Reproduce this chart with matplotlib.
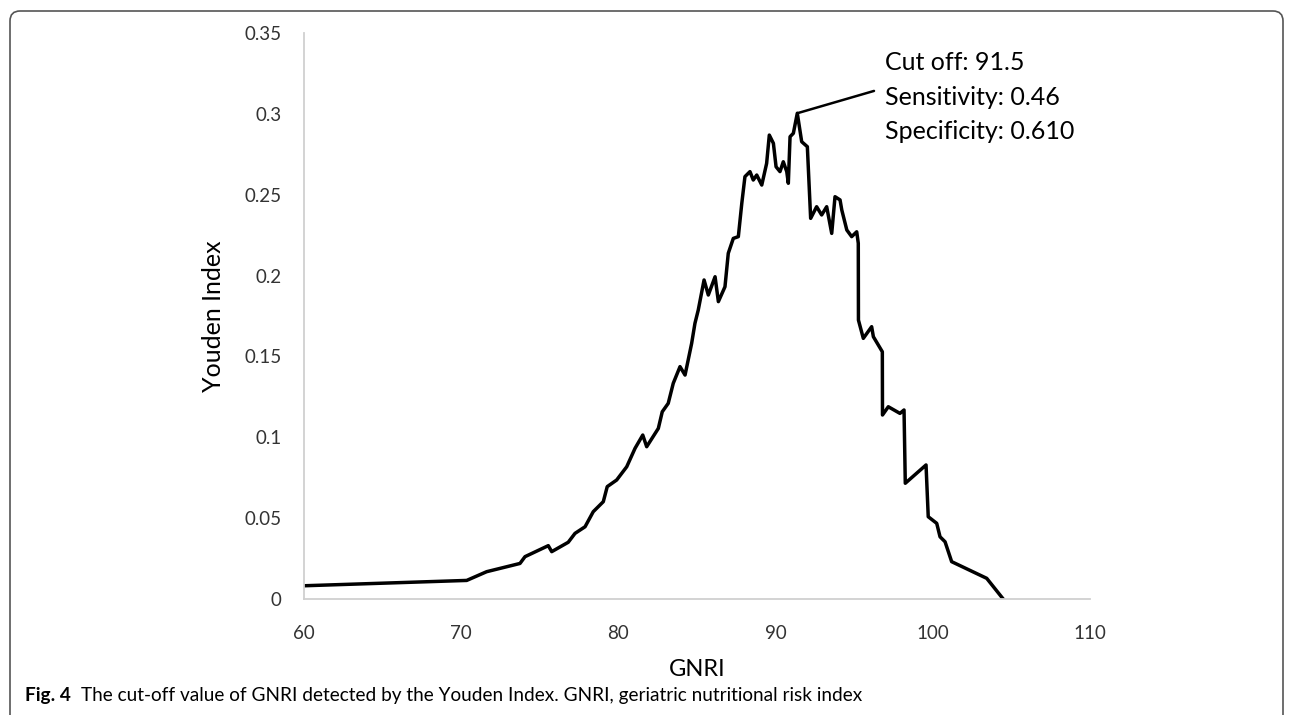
import matplotlib
matplotlib.use("Agg")
import matplotlib.pyplot as plt
from matplotlib.patches import FancyBboxPatch
from matplotlib.transforms import IdentityTransform

# values
gnri = [60.00, 70.35, 71.62, 73.74, 74.06, 75.54, 75.76, 76.81, 77.24, 77.88,
        78.40, 79.04, 79.29, 79.89, 80.53, 81.06, 81.55, 81.80, 82.54, 82.79,
        83.17, 83.49, 83.92, 84.24, 84.66, 84.87, 85.08, 85.45, 85.72, 86.15,
        86.36, 86.78, 86.99, 87.31, 87.63, 87.85, 88.05, 88.37, 88.58, 88.80,
        89.12, 89.43, 89.60, 89.86, 90.03, 90.28, 90.49, 90.71, 90.81, 90.92,
        91.13, 91.38, 91.66, 92.02, 92.23, 92.61, 92.93, 93.25, 93.57, 93.78,
        94.10, 94.21, 94.53, 94.84, 95.16, 95.26, 95.27, 95.58, 96.11, 96.22,
        96.79, 96.80, 97.17, 97.91, 98.17, 98.25, 99.57, 99.71, 100.25, 100.46,
        100.78, 101.20, 103.43, 104.48]
youden = [0.0082, 0.0115, 0.0169, 0.0220, 0.0262, 0.0330, 0.0293, 0.0351, 0.0406, 0.0447,
          0.0540, 0.0602, 0.0695, 0.0736, 0.0818, 0.0932, 0.1014, 0.0942, 0.1055, 0.1158,
          0.1210, 0.1334, 0.1437, 0.1385, 0.1581, 0.1705, 0.1787, 0.1973, 0.1880, 0.1993,
          0.1839, 0.1931, 0.2138, 0.2230, 0.2241, 0.2447, 0.2612, 0.2643, 0.2591, 0.2622,
          0.2560, 0.2694, 0.2869, 0.2818, 0.2673, 0.2643, 0.2704, 0.2643, 0.2571, 0.2859,
          0.2880, 0.3004, 0.2828, 0.2797, 0.2354, 0.2426, 0.2375, 0.2426, 0.2261, 0.2488,
          0.2468, 0.2406, 0.2282, 0.2241, 0.2271, 0.2200, 0.1725, 0.1612, 0.1684, 0.1622,
          0.1529, 0.1138, 0.1189, 0.1148, 0.1169, 0.0716, 0.0829, 0.0509, 0.0468, 0.0385,
          0.0354, 0.0231, 0.0128, 0.0000]

x_ticks = [60, 70, 80, 90, 100, 110]
y_ticks = [0, 0.05, 0.1, 0.15, 0.2, 0.25, 0.3, 0.35]
y_tick_labels = ["0", "0.05", "0.1", "0.15", "0.2", "0.25", "0.3", "0.35"]
cutoff_lines = ["Cut off: 91.5", "Sensitivity: 0.46", "Specificity: 0.610"]
caption_bold = "Fig. 4"
caption = "The cut-off value of GNRI detected by the Youden Index. GNRI, geriatric nutritional risk index"

CHART_FONT = ["Lato", "DejaVu Sans"]

fig = plt.figure(figsize=(12.93, 7.15), dpi=100)
ax = fig.add_axes([0.2351, 0.1622, 0.6079, 0.7916])

ax.plot(gnri, youden, color="black", lw=2.5, solid_joinstyle="round")

ax.set_xlim(60, 110)
ax.set_ylim(0, 0.35)
ax.set_xticks(x_ticks)
ax.set_xticklabels([str(t) for t in x_ticks], fontsize=13.5, color="#333333", family=CHART_FONT)
ax.set_yticks(y_ticks)
ax.set_yticklabels(y_tick_labels, fontsize=13.5, color="#333333", family=CHART_FONT)
ax.tick_params(axis="both", length=0)
ax.tick_params(axis="x", pad=19)
ax.tick_params(axis="y", pad=16)

for side in ["top", "right"]:
    ax.spines[side].set_visible(False)
for side in ["left", "bottom"]:
    ax.spines[side].set_color("#d0d0d0")
    ax.spines[side].set_linewidth(1.3)

ax.set_xlabel("GNRI", fontsize=17, family=CHART_FONT, labelpad=12)
ax.set_ylabel("Youden Index", fontsize=18, family=CHART_FONT, labelpad=14)

# annotation at the maximum of the curve
i_max = max(range(len(youden)), key=lambda i: youden[i])
ax.annotate("", xy=(gnri[i_max], youden[i_max]), xytext=(96.26, 0.3142),
            arrowprops=dict(arrowstyle="-", color="black", lw=1.8, shrinkA=0, shrinkB=0))
for k, line in enumerate(cutoff_lines):
    ax.text(96.96, 0.3315 - k * 0.0213, line, fontsize=18, family=CHART_FONT,
            ha="left", va="center", color="black")

# caption under the chart
t = fig.text(25 / 1293, 1 - 696 / 715, caption_bold, fontsize=13.7, fontweight="bold",
             family=CHART_FONT, va="center", ha="left")
fig.canvas.draw()
bb = t.get_window_extent()
fig.text((bb.x1 + 10) / 1293, 1 - 696 / 715, caption, fontsize=13.7,
         family=CHART_FONT, va="center", ha="left")

# rounded frame round the figure
frame = FancyBboxPatch((10, -12), 1273, 716, boxstyle="round,pad=0,rounding_size=10",
                       transform=IdentityTransform(), fill=False, edgecolor="#555555", lw=1.2)
fig.patches.append(frame)

fig.savefig("out.png", dpi=100)
